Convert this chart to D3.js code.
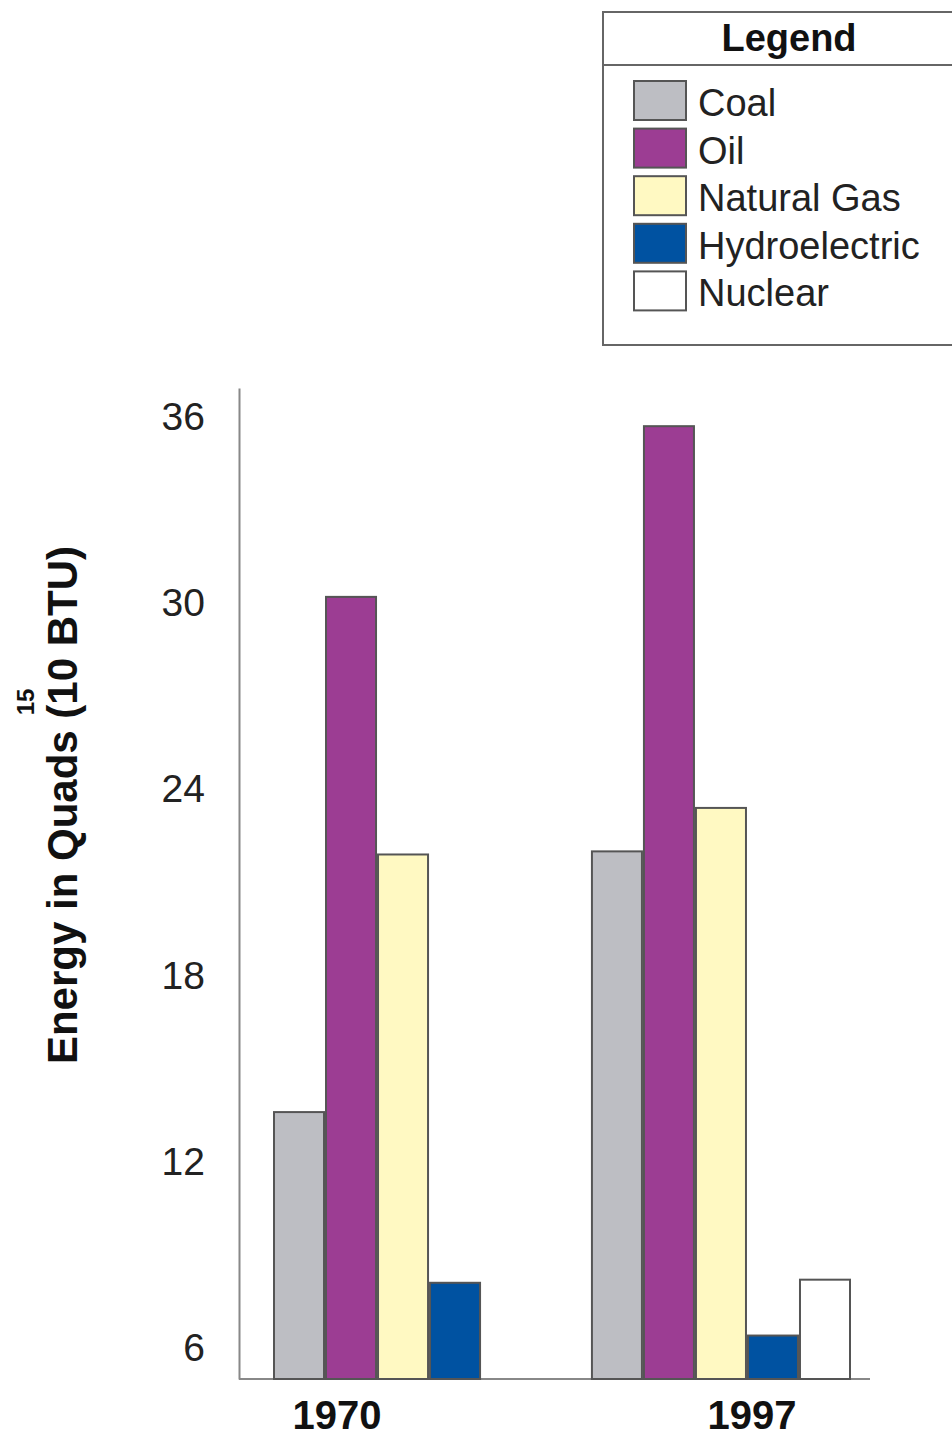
<!DOCTYPE html>
<html>
<head>
<meta charset="utf-8">
<script src="https://cdn.jsdelivr.net/npm/d3@7"></script>
<style>
  body { margin: 0; background: #fff; }
  svg { display: block; font-family: "Liberation Sans", Arial, sans-serif; }
</style>
</head>
<body>
<script>
// data
const years = ['1970', '1997'];
const sources = ['Coal', 'Oil', 'Natural Gas', 'Hydroelectric', 'Nuclear'];
const colors = ['#bdbec3', '#9c3d93', '#fff9c2', '#0052a1', '#ffffff'];
const values1970 = [13.6, 30.2, 21.9, 8.1, null];
const values1997 = [22.0, 35.7, 23.4, 6.4, 8.2];
const yTicks = [6, 12, 18, 24, 30, 36];

const W = 952, H = 1439;
const svg = d3.select('body').append('svg').attr('width', W).attr('height', H);

const y = d3.scaleLinear().domain([5, 36.93]).range([1379, 388]);
const x0 = d3.scaleBand().domain(years).range([273, 851]).paddingInner(0.182);
const x1 = d3.scaleBand().domain(sources).range([0, x0.bandwidth()]);
const color = d3.scaleOrdinal().domain(sources).range(colors);

// y axis, no ticks, only labels
const yAxis = d3.axisLeft(y).tickValues(yTicks).tickSize(0).tickPadding(34);
const gy = svg.append('g').attr('transform', 'translate(239,0)').call(yAxis);
gy.select('.domain').attr('stroke', '#888').attr('stroke-width', 2);
gy.selectAll('text').attr('font-size', 39).attr('fill', '#222')
    .attr('font-family', '"Liberation Sans", Arial, sans-serif');

// x baseline
svg.append('line')
    .attr('x1', 239).attr('x2', 870)
    .attr('y1', y(5)).attr('y2', y(5))
    .attr('stroke', '#888').attr('stroke-width', 2);

// bars
const rows = years.map((yr, i) => ({ year: yr, vals: i === 0 ? values1970 : values1997 }));
const groups = svg.append('g').selectAll('g').data(rows).join('g')
    .attr('transform', d => `translate(${x0(d.year)},0)`);

groups.selectAll('rect')
    .data(d => sources.map((s, i) => ({ key: s, value: d.vals[i] })).filter(d => d.value != null))
    .join('rect')
    .attr('x', d => x1(d.key) + 1)
    .attr('width', x1.bandwidth() - 2)
    .attr('y', d => y(d.value))
    .attr('height', d => y(5) - y(d.value))
    .attr('fill', d => color(d.key))
    .attr('stroke', '#555')
    .attr('stroke-width', 2);

// year labels (placed as in the original, not centred on the groups)
const labelShift = { '1970': 64, '1997': 161 };
svg.append('g').selectAll('text').data(years).join('text')
    .attr('x', d => x0(d) + labelShift[d])
    .attr('y', 1429)
    .attr('text-anchor', 'middle')
    .attr('font-size', 40)
    .attr('font-weight', 'bold')
    .attr('fill', '#111')
    .text(d => d);

// y axis title
svg.append('text')
    .attr('transform', 'translate(77,805) rotate(-90)')
    .attr('text-anchor', 'middle')
    .attr('font-size', 42)
    .attr('font-weight', 'bold')
    .attr('fill', '#111')
    .text('Energy in Quads (10 BTU)');
svg.append('text')
    .attr('transform', 'translate(34,702) rotate(-90)')
    .attr('text-anchor', 'middle')
    .attr('font-size', 24)
    .attr('font-weight', 'bold')
    .attr('fill', '#111')
    .text('15');

// legend
const lg = svg.append('g');
lg.append('rect')
    .attr('x', 603).attr('y', 12).attr('width', 360).attr('height', 333)
    .attr('fill', '#fff').attr('stroke', '#666').attr('stroke-width', 2);
lg.append('line')
    .attr('x1', 603).attr('x2', 952).attr('y1', 65).attr('y2', 65)
    .attr('stroke', '#666').attr('stroke-width', 2);
lg.append('text')
    .attr('x', 789).attr('y', 51)
    .attr('text-anchor', 'middle')
    .attr('font-size', 38).attr('font-weight', 'bold').attr('fill', '#111')
    .text('Legend');

const ly = d3.scaleBand().domain(sources).range([78, 316]);
const items = lg.selectAll('g.item').data(sources).join('g').attr('class', 'item')
    .attr('transform', d => `translate(633,${ly(d)})`);
items.append('rect')
    .attr('x', 1).attr('y', 3)
    .attr('width', 52).attr('height', 39)
    .attr('fill', d => color(d))
    .attr('stroke', '#555').attr('stroke-width', 2);
items.append('text')
    .attr('x', 65).attr('y', 38)
    .attr('font-size', 38).attr('fill', '#222')
    .text(d => d);
</script>
</body>
</html>
